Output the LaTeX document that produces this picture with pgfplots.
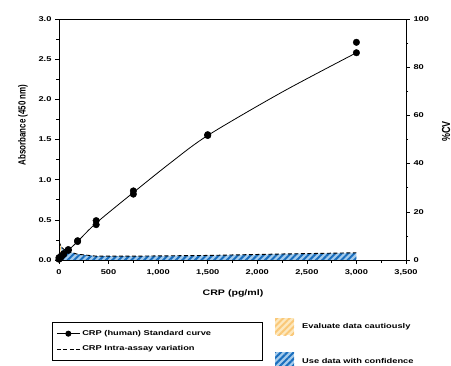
\documentclass[border=0pt]{standalone}
\usepackage{fontspec}
\setmainfont{Liberation Sans}[FakeStretch=1.33]
\newfontfamily\rotfont{Liberation Sans}
\usepackage{graphicx}
\usepackage{pgfplots}
\pgfplotsset{compat=1.18}
\usetikzlibrary{patterns.meta}
\definecolor{bluehatch}{RGB}{25,110,190}
\definecolor{bluelight}{RGB}{165,203,235}
\definecolor{orangehatch}{RGB}{250,200,120}
\definecolor{orangelight}{RGB}{253,232,190}
\begin{document}
\begin{tikzpicture}
\useasboundingbox (-59bp,-106bp) rectangle (392bp,260bp);
\pgfplotsset{
  common/.style={
    width=347bp, height=241bp, scale only axis,
    at={(0,0)}, anchor=south west,
    xmin=0, xmax=3500,
    tick align=outside,
    major tick length=4bp, minor tick length=2.5bp,
    tick style={black, line width=0.6pt},
    every tick label/.append style={font=\bfseries\fontsize{7}{8}\selectfont},
    /pgf/number format/assume math mode=true,
    axis line style={line width=0.8pt},
    label style={font=\bfseries\fontsize{8}{9.6}\selectfont},
  }
}
% right axis: %CV
\begin{axis}[common,
  axis y line*=right, axis x line=none,
  ymin=0, ymax=100,
  ytick={0,20,...,100}, minor y tick num=1,
  ylabel={\scalebox{1}[1.3]{\rotfont\bfseries\fontsize{9}{10}\selectfont\%CV}},
  ylabel style={at={(rel axis cs:1.1153,0.5332)}, anchor=center},
]
\addplot[draw=none, fill=orangelight,
  postaction={pattern={Lines[angle=45,distance=4.5bp,line width=2bp]}, pattern color=orangehatch}]
  coordinates {(0,7.5) (12,6.5) (23.4,5.5)} \closedcycle;
\addplot[draw=none, fill=bluelight,
  postaction={pattern={Lines[angle=45,distance=4.5bp,line width=2bp]}, pattern color=bluehatch}]
  coordinates {(23.4,5.5) (46.9,4.5) (93.75,3.5) (187.5,2.4) (375,1.6) (750,1.6) (1500,1.9) (2250,2.5) (3000,3.0)} \closedcycle;
\addplot[black, line width=0.9pt, dash pattern=on 4bp off 2.5bp]
  coordinates {(0,7.5) (23.4,5.5) (46.9,4.5) (93.75,3.5) (187.5,2.4) (375,1.6) (750,1.6) (1500,1.9) (2250,2.5) (3000,3.0)};
\end{axis}
% left axis: absorbance
\begin{axis}[common,
  xtick pos=bottom, ytick pos=left,
  ymin=0, ymax=3,
  xtick={0,500,...,3500}, minor x tick num=1,
  ytick={0,0.5,...,3}, minor y tick num=1,
  scaled x ticks=false,
  xticklabel style={yshift=-2bp, /pgf/number format/.cd, 1000 sep={,}},
  yticklabel style={/pgf/number format/.cd, fixed, fixed zerofill, precision=1},
  xlabel={CRP (pg/ml)},
  xlabel style={at={(rel axis cs:0.5015,-0.137)}, anchor=center},
  ylabel={\scalebox{1}[1.3]{\rotfont\bfseries Absorbance (450 nm)}},
  ylabel style={at={(rel axis cs:-0.1037,0.5602)}, anchor=center},
  legend style={at={(rel axis cs:-0.0202,-0.2573)}, anchor=north west,
    draw=black, line width=0.8pt, font=\bfseries\fontsize{7}{8}\selectfont,
    row sep=5bp, inner xsep=4bp, inner ysep=6bp},
  legend cell align=left,
]
\addplot[black, line width=0.8pt, smooth,
  legend image code/.code={\draw[black, line width=0.8pt] (0bp,0bp) -- (23bp,0bp); \fill[black] (11.5bp,0bp) circle (2.6bp);}]
  coordinates {(0,0.01) (23.4,0.035) (46.9,0.065) (93.75,0.12) (187.5,0.23) (375,0.46) (750,0.84) (1125,1.21) (1500,1.55) (2250,2.09) (3000,2.58)};
\addlegendentry{\makebox[174bp][l]{CRP (human) Standard curve}}
\addlegendimage{legend image code/.code={\draw[black, line width=0.9pt, dash pattern=on 4bp off 2.5bp] (0bp,0bp) -- (23bp,0bp);}}
\addlegendentry{\makebox[174bp][l]{CRP Intra-assay variation}}
\addplot[only marks, mark=*, mark size=3.3pt, black, forget plot]
  coordinates {(0,0.01) (0,0.03) (23.4,0.04) (23.4,0.05) (46.9,0.07) (46.9,0.08) (93.75,0.12) (93.75,0.13) (187.5,0.23) (187.5,0.24) (375,0.44) (375,0.49) (750,0.82) (750,0.86) (1500,1.55) (1500,1.56) (3000,2.58) (3000,2.71)};
\end{axis}
% swatches
\fill[orangelight] (216bp,-75bp) rectangle (235bp,-58bp);
\fill[pattern={Lines[angle=45,distance=4.5bp,line width=2bp]}, pattern color=orangehatch] (216bp,-75bp) rectangle (235bp,-58bp);
\node[anchor=west, font=\bfseries\fontsize{7}{8}\selectfont, inner sep=0pt] at (243bp,-67bp) {Evaluate data cautiously};
\fill[bluelight] (216bp,-109bp) rectangle (235bp,-92bp);
\fill[pattern={Lines[angle=45,distance=4.5bp,line width=2bp]}, pattern color=bluehatch] (216bp,-109bp) rectangle (235bp,-92bp);
\node[anchor=west, font=\bfseries\fontsize{7}{8}\selectfont, inner sep=0pt] at (243bp,-101bp) {Use data with confidence};
\end{tikzpicture}
\end{document}
